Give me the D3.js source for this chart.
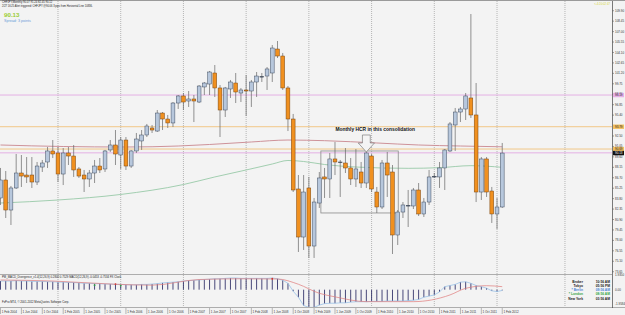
<!DOCTYPE html>
<html>
<head>
<meta charset="utf-8">
<script src="https://cdn.jsdelivr.net/npm/d3@7/dist/d3.min.js"></script>
<style>
  body { margin: 0; background: #fff; }
  svg { display: block; font-family: "Liberation Sans", Arial, sans-serif; }
</style>
</head>
<body>
<svg id="chart" width="625" height="315"></svg>
<script>
// CHFJPY monthly, Feb 2004 .. Feb 2012 (one entry per month)
const opens  = [83.89,86.39,82.22,85.28,87.36,87.08,87.08,86.11,88.19,88.89,90.42,90.14,87.22,90.14,89.72,87.92,87.08,86.53,87.36,88.33,87.92,90.56,91.25,89.86,91.94,88.33,90.42,91.81,92.64,93.61,93.19,95.69,94.86,94.31,97.08,98.06,97.36,97.64,97.22,99.31,99.72,101.25,99.17,96.11,99.03,99.86,98.47,98.89,98.75,100.00,100.76,100.83,101.25,104.58,103.61,99.17,94.86,85.14,78.47,85.28,77.22,83.19,86.81,86.53,89.31,88.89,88.75,88.06,86.53,87.50,85.97,89.72,84.72,82.64,88.75,87.50,78.75,81.94,82.85,82.78,85.00,81.67,83.33,86.88,86.81,88.06,90.42,94.03,95.83,96.25,97.78,95.42,84.72,89.31,84.86,81.67,82.64];
const highs  = [88.06,87.64,85.56,90.00,89.86,89.58,89.58,88.89,89.17,90.97,91.94,90.97,90.83,90.97,91.25,88.19,87.78,87.78,89.17,89.44,90.56,91.94,93.33,92.36,92.36,90.56,92.92,93.33,94.17,94.03,96.11,95.83,95.42,97.22,98.19,98.47,98.75,98.19,99.58,100.00,101.53,102.36,99.58,99.31,100.28,101.25,99.17,100.97,100.28,101.39,101.25,102.08,105.14,105.69,104.03,99.44,95.56,87.08,87.08,86.81,83.89,87.50,88.06,90.14,91.67,89.17,90.83,89.44,90.69,88.89,90.28,90.00,85.42,89.17,90.28,88.47,82.22,83.33,85.00,85.28,85.97,83.89,87.78,87.36,88.89,90.69,94.44,96.39,96.53,98.47,109.44,99.86,89.58,89.58,85.42,83.89,91.53];
const lows   = [82.92,81.11,80.14,85.14,85.42,85.97,85.28,85.69,87.50,88.06,89.44,86.11,85.69,88.47,86.81,86.67,84.72,85.42,85.97,87.36,87.50,90.28,88.47,87.92,87.78,88.06,90.14,90.56,92.36,92.92,93.06,93.33,93.61,93.75,96.25,96.11,96.53,94.44,97.08,98.19,98.19,97.92,92.36,95.14,97.78,97.08,97.22,95.28,96.53,97.92,100.00,98.89,100.00,103.33,98.89,93.19,84.72,76.39,76.67,75.56,75.56,82.50,83.89,83.89,87.08,84.03,87.36,85.69,85.42,85.28,85.28,84.72,81.81,82.36,84.03,76.11,77.36,81.11,79.86,82.36,81.39,81.25,82.92,86.67,85.28,85.00,90.28,90.42,94.44,94.72,95.00,83.33,83.61,84.03,80.42,79.58,82.50];
const closes = [86.39,82.22,85.28,87.36,86.94,86.81,86.11,88.33,88.75,90.42,90.00,87.22,90.14,89.72,87.78,86.94,86.53,87.36,88.33,87.78,90.42,91.25,90.00,91.94,88.33,90.42,92.08,92.64,93.89,93.33,95.69,94.86,94.31,97.08,98.06,97.22,97.64,97.36,99.44,99.86,101.39,99.17,96.11,99.17,100.00,98.61,98.89,98.75,100.00,100.83,100.76,101.81,104.72,103.61,99.17,94.86,85.00,78.47,84.72,77.22,83.33,86.67,86.53,89.31,88.89,88.89,88.06,86.53,87.92,85.97,90.14,85.14,82.64,88.75,87.08,78.75,81.94,82.92,82.85,85.00,81.67,83.33,86.81,86.88,88.06,90.56,94.17,95.83,96.25,98.06,95.42,84.72,89.31,84.72,81.67,82.64,90.13];

// moving averages read at a few months
const maRedIdx   = [0,12,24,34,40,48,55,62,72,80,88,96];
const maRedVal   = [91.25,91.04,90.97,91.11,91.32,91.67,91.94,91.85,91.53,91.25,91.11,91.00];
const maGreenIdx = [0,11,23,35,41,47,52,55,58,62,68,78,84,90,96];
const maGreenVal = [83.19,83.61,84.38,85.76,86.81,87.78,88.61,89.10,88.96,88.54,88.19,88.01,88.10,88.38,88.15];

// horizontal lines and price axis
const hLineValues = [98.19, 93.79, 90.69, 90.16];
const priceTicks = [109.90,108.45,107.00,105.55,104.10,102.65,101.20,99.75,98.30,96.85,95.40,92.50,91.05,89.60,88.15,86.70,85.25,83.80,82.35,80.90,79.45,78.00,76.55,75.10,73.65];
const lastPrice = 90.13;

// MACD panel
const macdHist = [1.15,1.15,1.15,1.20,1.15,1.15,1.10,1.10,1.10,1.05,
                  1.05,1.00,1.00,0.95,0.95,0.90,0.85,0.85,0.80,0.80,
                  0.75,0.75,0.70,0.70,0.65,0.65,0.65,0.70,0.70,0.75,
                  0.80,0.90,0.95,1.00,1.05,1.15,1.20,1.25,1.30,1.35,
                  1.40,1.45,1.45,1.50,1.55,1.55,1.50,1.50,1.50,1.50,
                  1.50,1.50,1.55,1.45,1.25,0.85,-0.20,-1.00,-2.10,-2.35,
                  -2.35,-2.05,-1.85,-1.80,-1.80,-1.75,-1.75,-1.65,-1.60,-1.60,
                  -1.60,-1.55,-1.55,-1.55,-1.50,-1.50,-1.50,-1.50,-1.45,-1.40,
                  -1.30,-1.00,-0.85,-0.70,-0.30,0.40,0.55,0.70,1.00,1.05,
                  0.85,0.55,0.40,0.20,-0.15,-0.25,-0.10];
const signalIdx = [0,10,22,29,38,46,53,57,61,64,70,79,86,89,93,96];
const signalVal = [1.29,1.15,0.72,0.60,1.35,1.45,1.42,0.72,-0.48,-0.95,-1.59,-1.59,-0.70,0.18,0.53,0.40];
const divIdx = [18, 23, 22, 52];
const divVal = [0.60, 0.55, 0.75, 1.45];
const divBull = [true, true, false, false];
const macdTicks = [1.9350, 0, -1.9584];
const macdTickLabels = ["1.9350", "0.00", "-1.9584"];

// time axis
const dateLabels = ["1 Feb 2004","1 Jun 2004","1 Oct 2004","1 Feb 2005","1 Jun 2005","1 Oct 2005","1 Feb 2006","1 Jun 2006","1 Oct 2006","1 Feb 2007","1 Jun 2007","1 Oct 2007","1 Feb 2008","1 Jun 2008","1 Oct 2008","1 Feb 2009","1 Jun 2009","1 Oct 2009","1 Feb 2010","1 Jun 2010","1 Oct 2010","1 Feb 2011","1 Jun 2011","1 Oct 2011","1 Feb 2012"];
const gridIdx = [11,23,35,47,59,71,83,95,108];

// annotation (drawn in data space)
const boxIdx = [61.3, 76.1];
const boxPrice = [90.42, 81.81];
const arrowIdx = 70;
const arrowPrice = [92.64, 91.53, 90.28];

const clockNames = ["Broker", "Tokyo", "* Berlin", "* London", "New York"];
const clockTimes = ["10:56 AM", "05:56 PM", "09:56 AM", "08:56 AM", "03:56 AM"];
const clockColors = ["#222", "#222", "#4d86d6", "#35a845", "#222"];

const svg = d3.select('#chart');
const x = d3.scaleLinear().domain([0, 117]).range([0.5, 612]);
const y = d3.scaleLinear().domain([73.333, 111.111]).range([274, 2]);
const ym = d3.scaleLinear().domain([-2.3, 1.95]).range([307, 275]);

svg.append('rect').attr('width', 625).attr('height', 315).attr('fill', '#f3f3f3');
svg.append('line').attr('x1', 0).attr('x2', 625).attr('y1', 0.5).attr('y2', 0.5).attr('stroke', '#9a9a9a');

const defs = svg.append('defs');
defs.append('clipPath').attr('id', 'mainClip').append('rect')
    .attr('x', 0).attr('y', 1).attr('width', 612).attr('height', 273);
defs.append('clipPath').attr('id', 'macdClip').append('rect')
    .attr('x', 0).attr('y', 275).attr('width', 612).attr('height', 32);

// vertical grid
svg.append('g').selectAll('line').data(gridIdx).enter().append('line')
    .attr('x1', d => x(d)).attr('x2', d => x(d))
    .attr('y1', 1).attr('y2', 307)
    .attr('stroke', '#8c8c8c').attr('stroke-width', 0.6)
    .attr('stroke-dasharray', '1,1');

const main = svg.append('g').attr('clip-path', 'url(#mainClip)');

// horizontal lines
const hColors = ['#e2a9e2', '#f0c27c', '#f0c27c', '#e2a9e2'];
main.selectAll('.hl').data(hLineValues).enter().append('line')
    .attr('x1', 0).attr('x2', 612)
    .attr('y1', d => y(d)).attr('y2', d => y(d))
    .attr('stroke', (d, i) => hColors[i]).attr('stroke-width', 0.9);

const curve = d3.line().x(d => x(d[0])).y(d => y(d[1])).curve(d3.curveMonotoneX);
main.append('path').attr('d', curve(maRedIdx.map((d, i) => [d, maRedVal[i]])))
    .attr('fill', 'none').attr('stroke', '#c9878f').attr('stroke-width', 0.9);
main.append('path').attr('d', curve(maGreenIdx.map((d, i) => [d, maGreenVal[i]])))
    .attr('fill', 'none').attr('stroke', '#98caa8').attr('stroke-width', 0.9);

// consolidation box
main.append('rect')
    .attr('x', x(boxIdx[0])).attr('y', y(boxPrice[0]))
    .attr('width', x(boxIdx[1]) - x(boxIdx[0])).attr('height', y(boxPrice[1]) - y(boxPrice[0]))
    .attr('fill', 'none').attr('stroke', '#8a8a8a').attr('stroke-width', 0.8);

// candles
const candles = main.append('g').selectAll('g').data(opens).enter().append('g');
candles.append('line')
    .attr('x1', (d, i) => x(i)).attr('x2', (d, i) => x(i))
    .attr('y1', (d, i) => y(highs[i])).attr('y2', (d, i) => y(lows[i]))
    .attr('stroke', '#666').attr('stroke-width', 0.7);
candles.append('rect')
    .attr('x', (d, i) => x(i) - 1.9).attr('width', 3.8)
    .attr('y', (d, i) => y(Math.max(d, closes[i])))
    .attr('height', (d, i) => Math.max(0.6, Math.abs(y(d) - y(closes[i]))))
    .attr('fill', (d, i) => closes[i] > d ? '#b7c7dc' : (closes[i] < d ? '#f0901f' : '#333'))
    .attr('stroke', (d, i) => closes[i] >= d ? '#3f4c60' : '#7a4510')
    .attr('stroke-width', 0.5);

// arrow + caption
const ax = x(arrowIdx), sw = x(0.75) - x(0), hw = x(1.55) - x(0);
const ay = arrowPrice.map(y);
main.append('path')
    .attr('d', `M${ax - sw},${ay[0]}L${ax + sw},${ay[0]}L${ax + sw},${ay[1]}L${ax + hw},${ay[1]}L${ax},${ay[2]}L${ax - hw},${ay[1]}L${ax - sw},${ay[1]}Z`)
    .attr('fill', '#f4f4f4').attr('stroke', '#6a6a6a').attr('stroke-width', 0.6);
main.append('text').attr('x', x(71.7)).attr('y', y(93.43)).attr('dy', '0.35em')
    .attr('text-anchor', 'middle').attr('font-size', 4.9).attr('font-weight', 'bold')
    .attr('fill', '#111').text('Monthly HCR in this consolidation');

// separators
svg.append('line').attr('x1', 0).attr('x2', 612).attr('y1', 274.5).attr('y2', 274.5).attr('stroke', '#9a9a9a').attr('stroke-width', 0.8);
svg.append('line').attr('x1', 0).attr('x2', 625).attr('y1', 307.5).attr('y2', 307.5).attr('stroke', '#9a9a9a').attr('stroke-width', 0.8);
svg.append('line').attr('x1', 612.5).attr('x2', 612.5).attr('y1', 1).attr('y2', 308).attr('stroke', '#444').attr('stroke-width', 0.7);

// price axis
const pAxis = svg.append('g').attr('font-size', 3).attr('fill', '#333');
priceTicks.forEach(v => {
    pAxis.append('line').attr('x1', 612.5).attr('x2', 614).attr('y1', y(v)).attr('y2', y(v)).attr('stroke', '#444').attr('stroke-width', 0.5);
    pAxis.append('text').attr('x', 615).attr('y', y(v)).attr('dy', '0.35em').text(v.toFixed(2));
});
const tagBg = ['#e6b0e6', '#f3bf5e', '#f3bf5e'];
hLineValues.slice(0, 3).forEach((v, i) => {
    pAxis.append('rect').attr('x', 613).attr('y', y(v) - 2.2).attr('width', 11).attr('height', 4.4).attr('fill', tagBg[i]);
    pAxis.append('text').attr('x', 615).attr('y', y(v)).attr('dy', '0.35em').attr('fill', '#222').text(v.toFixed(2));
});
pAxis.append('rect').attr('x', 613).attr('y', y(lastPrice) - 2.2).attr('width', 11).attr('height', 4.4).attr('fill', '#111');
pAxis.append('text').attr('x', 615).attr('y', y(lastPrice)).attr('dy', '0.35em').attr('fill', '#fff').text(lastPrice.toFixed(2));

// MACD panel
const panel = svg.append('g').attr('clip-path', 'url(#macdClip)');
panel.selectAll('.bar').data(macdHist).enter().append('line')
    .attr('x1', (d, i) => x(i)).attr('x2', (d, i) => x(i))
    .attr('y1', ym(0)).attr('y2', d => ym(d))
    .attr('stroke', '#1d1d5a').attr('stroke-width', 0.8);
panel.append('path')
    .attr('d', d3.line().x((d, i) => x(i)).y(d => ym(d))(macdHist))
    .attr('fill', 'none').attr('stroke', '#8ebbe6').attr('stroke-width', 0.7);
panel.append('path')
    .attr('d', d3.line().x(d => x(d[0])).y(d => ym(d[1])).curve(d3.curveMonotoneX)(signalIdx.map((d, i) => [d, signalVal[i]])))
    .attr('fill', 'none').attr('stroke', '#e07a7a').attr('stroke-width', 0.7);
panel.selectAll('.div').data(divIdx).enter().append('circle')
    .attr('cx', d => x(d)).attr('cy', (d, i) => ym(divVal[i])).attr('r', 0.9)
    .attr('fill', (d, i) => divBull[i] ? '#2ea043' : '#d0342c');

panel.append('text').attr('x', 2).attr('y', 278).attr('font-size', 2.8).attr('fill', '#222')
    .text('PM_MACD_Divergence_v1.4(12,26,9) 0.2800 0.7529  MACD(12,26,9) -0.0453 -0.7534  FX Clock');
panel.append('text').attr('x', 2).attr('y', 303).attr('font-size', 2.8).attr('fill', '#222')
    .text('FxPro MT4, \u00a9 2001-2012 MetaQuotes Software Corp.');

const mAxis = svg.append('g').attr('font-size', 3).attr('fill', '#333');
macdTicks.forEach((v, i) => {
    mAxis.append('text').attr('x', 615).attr('y', ym(v)).attr('dy', '0.35em').text(macdTickLabels[i]);
});

// clock
const clock = svg.append('g').attr('font-size', 3.3).attr('font-weight', 'bold');
clockNames.forEach((n, i) => {
    clock.append('text').attr('x', 583).attr('y', 282 + i * 4.1).attr('dy', '0.35em').attr('text-anchor', 'end').attr('fill', clockColors[i]).text(n);
    clock.append('text').attr('x', 610).attr('y', 282 + i * 4.1).attr('dy', '0.35em').attr('text-anchor', 'end').attr('fill', clockColors[i]).text(clockTimes[i]);
});

// time axis
const tAxis = svg.append('g').attr('font-size', 3).attr('fill', '#333');
dateLabels.forEach((t, k) => {
    const px = x(k * 4);
    tAxis.append('line').attr('x1', px).attr('x2', px).attr('y1', 308).attr('y2', 314).attr('stroke', '#777').attr('stroke-width', 0.5);
    tAxis.append('text').attr('x', px + 1.2).attr('y', 311.5).attr('dy', '0.35em').text(t);
});

// header
const head = svg.append('g');
head.append('text').attr('x', 2).attr('y', 3.3).attr('font-size', 2.7).attr('fill', '#222')
    .text('CHFJPY,Monthly  90.07 91.24 82.45 90.12');
head.append('text').attr('x', 2).attr('y', 6.8).attr('font-size', 2.6).attr('fill', '#222')
    .text('2/27 16:25 Alert triggered: CHFJPY @90.06      3 pips from Horizontal Line 10836.');
head.append('text').attr('x', 4).attr('y', 16.5).attr('font-size', 6.2).attr('font-weight', 'bold')
    .attr('fill', '#9acd32').text(lastPrice.toFixed(2));
head.append('text').attr('x', 4).attr('y', 21.5).attr('font-size', 3.7).attr('fill', '#6a9bd8')
    .text('Spread: 3 points');
head.append('text').attr('x', 610).attr('y', 4.5).attr('text-anchor', 'end').attr('font-size', 2.8)
    .attr('fill', '#d8d840').text('<-4:20:02:47');
</script>
</body>
</html>
